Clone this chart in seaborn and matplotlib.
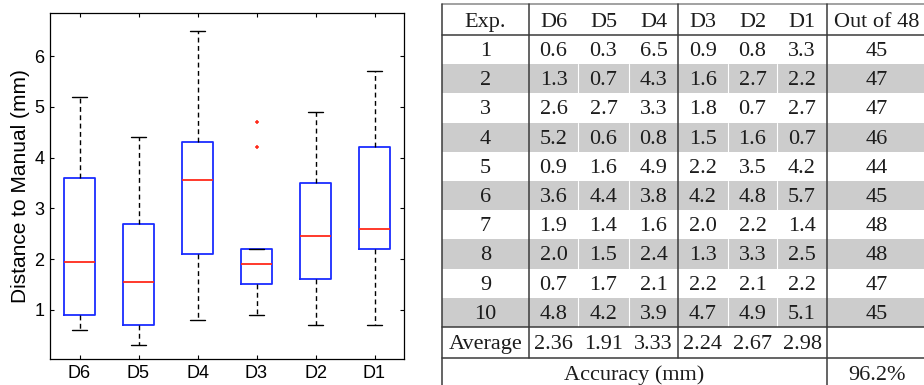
import numpy as np
import pandas as pd
import matplotlib as mpl
import matplotlib.pyplot as plt
import seaborn as sns
from matplotlib.patches import Rectangle

# per-experiment distances (mm), one list per dataset
order = ['D6', 'D5', 'D4', 'D3', 'D2', 'D1']
exp_ids = list(range(1, 11))
d6 = [0.6, 1.3, 2.6, 5.2, 0.9, 3.6, 1.9, 2.0, 0.7, 4.8]
d5 = [0.3, 0.7, 2.7, 0.6, 1.6, 4.4, 1.4, 1.5, 1.7, 4.2]
d4 = [6.5, 4.3, 3.3, 0.8, 4.9, 3.8, 1.6, 2.4, 2.1, 3.9]
d3 = [0.9, 1.6, 1.8, 1.5, 2.2, 4.2, 2.0, 1.3, 2.2, 4.7]
d2 = [0.8, 2.7, 0.7, 1.6, 3.5, 4.8, 2.2, 3.3, 2.1, 4.9]
d1 = [3.3, 2.2, 2.7, 0.7, 4.2, 5.7, 1.4, 2.5, 2.2, 5.1]
out_of_48 = [45, 47, 47, 46, 44, 45, 48, 48, 47, 45]
averages = ['2.36', '1.91', '3.33', '2.24', '2.67', '2.98']
accuracy = '96.2%'

series = {'D6': d6, 'D5': d5, 'D4': d4, 'D3': d3, 'D2': d2, 'D1': d1}
df = pd.DataFrame([(k, v) for k, vals in series.items() for v in vals],
                  columns=['dataset', 'dist'])


# MATLAB-style quartiles (hazen) instead of numpy's linear default
def matlab_stats(X, whis=1.5, bootstrap=None, labels=None, autorange=False):
    groups = X if isinstance(X, list) else [X]
    stats = []
    for x in groups:
        x = np.asarray(x, dtype=float).ravel()
        q1, med, q3 = np.percentile(x, [25, 50, 75], method='hazen')
        iqr = q3 - q1
        lo, hi = q1 - whis * iqr, q3 + whis * iqr
        wlo = x[x >= lo].min()
        whi = x[x <= hi].max()
        stats.append(dict(mean=x.mean(), med=med, q1=q1, q3=q3, iqr=iqr,
                          cilo=med, cihi=med, whislo=wlo, whishi=whi,
                          fliers=x[(x < wlo) | (x > whi)], label=None))
    return stats


mpl.cbook.boxplot_stats = matlab_stats

sns.set_theme(style='white')
plt.rcParams['font.family'] = ['Liberation Sans', 'DejaVu Sans']

fig = plt.figure(figsize=(9.24, 3.85), dpi=100)

# ---- table (drawn first, underneath) ----
tax = fig.add_axes([0, 0, 1, 1])
tax.set_xlim(0, 924)
tax.set_ylim(385, 0)
tax.axis('off')

col_edges = [442, 529, 578, 629, 678, 728, 777, 827, 927]
row_top, row_h = 35.0, 29.2
line_c = '#3a3a3a'
txt_c = '#1c1c1c'
serif = dict(family=['Liberation Serif', 'DejaVu Serif'], fontsize=16, color=txt_c)

def col_center(i):
    return (col_edges[i] + col_edges[i + 1]) / 2

def row_y(i):
    # baseline of data row i (0-based)
    return row_top + i * row_h + 0.72 * row_h

for i in range(len(exp_ids)):
    if i % 2 == 1:
        y0 = row_top + i * row_h
        tax.add_patch(Rectangle((col_edges[0], y0), col_edges[-1] - col_edges[0], row_h,
                                facecolor='#cccccc', edgecolor='none', zorder=0))
        for xe in [578, 629, 728, 777]:
            tax.plot([xe, xe], [y0, y0 + row_h], color='white', lw=0.8, zorder=1)

headers = ['Exp.'] + order + ['Out of 48']
for j, h in enumerate(headers):
    tax.text(col_center(j), 4 + 0.74 * 31, h, ha='center', va='baseline', **serif)

for i, e in enumerate(exp_ids):
    vals = [str(e)] + [f'{series[k][i]:.1f}' for k in order] + [str(out_of_48[i])]
    for j, v in enumerate(vals):
        tax.text(col_center(j), row_y(i), v, ha='center', va='baseline', **serif)

avg_top = row_top + 10 * row_h
avg_bot = avg_top + 31
tax.text(col_center(0), avg_top + 0.72 * 31, 'Average', ha='center', va='baseline', **serif)
for j, v in enumerate(averages):
    tax.text(col_center(j + 1), avg_top + 0.72 * 31, v, ha='center', va='baseline', **serif)

tax.text((col_edges[0] + col_edges[7]) / 2, avg_bot + 0.72 * 30, 'Accuracy (mm)',
         ha='center', va='baseline', **serif)
tax.text(col_center(7), avg_bot + 0.72 * 30, accuracy, ha='center', va='baseline', **serif)

for yy, c in [(4, '#888888'), (35, line_c), (avg_top, line_c), (avg_bot, line_c)]:
    tax.plot([col_edges[0], 927], [yy, yy], color=c, lw=1.1, zorder=2)
for xx in [442, 827]:
    tax.plot([xx, xx], [4, 390], color=line_c, lw=1.1, zorder=2)
for xx in [529, 678]:
    tax.plot([xx, xx], [4, avg_bot], color=line_c, lw=1.1, zorder=2)

# ---- boxplot ----
ax = fig.add_axes([50 / 924, 26 / 385, 354 / 924, 346 / 385])
sns.boxplot(data=df, x='dataset', y='dist', order=order, ax=ax, width=0.52,
            whis=1.5, fill=False, linewidth=1.3,
            boxprops=dict(color='#1a2cff'),
            medianprops=dict(color='#ff2a1a', linewidth=1.3),
            whiskerprops=dict(color='black', linestyle=(0, (3.5, 2.5)), linewidth=1.0),
            capprops=dict(color='black', linewidth=1.0),
            flierprops=dict(marker='+', markeredgecolor='#ff2a1a', markersize=3,
                            markeredgewidth=1.1))

ax.set_ylim(0.03, 6.85)
ax.set_xlim(-0.5, 5.5)
ax.set_yticks([1, 2, 3, 4, 5, 6])
ax.set_xlabel('')
ax.set_ylabel('Distance to Manual (mm)', fontsize=15, color='black', labelpad=3)
ax.tick_params(direction='in', length=3, width=0.8, colors='black', labelsize=13,
               top=True, right=True, bottom=True, left=True, pad=4)
for s in ax.spines.values():
    s.set_visible(True)
    s.set_color('black')
    s.set_linewidth(0.9)

fig.savefig('out.png', dpi=100)
